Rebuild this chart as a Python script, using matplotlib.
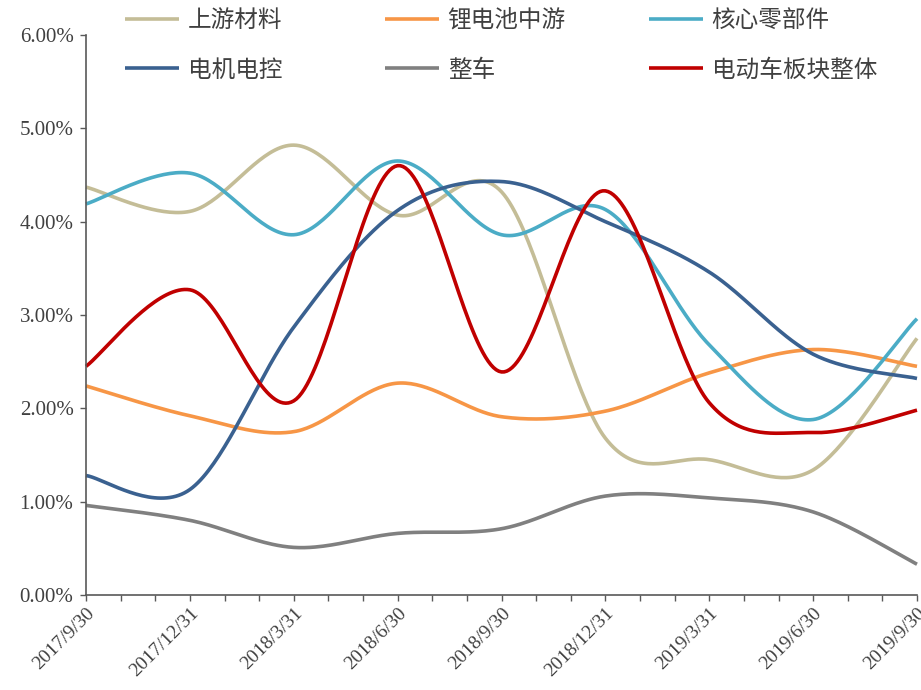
import numpy as np
import matplotlib
matplotlib.use("Agg")
import matplotlib.pyplot as plt
from matplotlib.ticker import MultipleLocator, FixedLocator, FuncFormatter

# 季度末日期标签（按月份数定位，每 3 个月一个数据点）
dates = ["2017/9/30", "2017/12/31", "2018/3/31", "2018/6/30", "2018/9/30",
         "2018/12/31", "2019/3/31", "2019/6/30", "2019/9/30"]
months = [0, 3, 6, 9, 12, 15, 18, 21, 24]

series_names = ["上游材料", "锂电池中游", "核心零部件", "电机电控", "整车", "电动车板块整体"]

upstream = [4.37, 4.11, 4.82, 4.07, 4.32, 1.68, 1.45, 1.34, 2.75]
battery_mid = [2.24, 1.92, 1.75, 2.27, 1.91, 1.97, 2.38, 2.63, 2.45]
core_parts = [4.19, 4.52, 3.86, 4.65, 3.86, 4.13, 2.68, 1.88, 2.96]
motor_ctrl = [1.28, 1.13, 2.87, 4.12, 4.43, 4.00, 3.46, 2.58, 2.32]
vehicle = [0.96, 0.80, 0.51, 0.66, 0.71, 1.06, 1.04, 0.89, 0.33]
ev_sector = [2.45, 3.27, 2.08, 4.60, 2.39, 4.33, 2.06, 1.74, 1.98]

colors = ["#C4BD97", "#F79646", "#4BACC6", "#3A6190", "#808080", "#C00000"]


def smooth(x, y, n=40):
    """Catmull-Rom 式贝塞尔平滑，曲线经过每个数据点"""
    x = np.asarray(x, float)
    y = np.asarray(y, float)
    pts = np.column_stack([x, y])
    out = []
    for i in range(len(pts) - 1):
        p0 = pts[i - 1] if i > 0 else pts[i]
        p1 = pts[i]
        p2 = pts[i + 1]
        p3 = pts[i + 2] if i + 2 < len(pts) else pts[i + 1]
        c1 = p1 + (p2 - p0) / 6.0
        c2 = p2 - (p3 - p1) / 6.0
        t = np.linspace(0, 1, n)[:, None]
        seg = ((1 - t) ** 3) * p1 + 3 * ((1 - t) ** 2) * t * c1 \
            + 3 * (1 - t) * t ** 2 * c2 + t ** 3 * p2
        out.append(seg if i == 0 else seg[1:])
    curve = np.vstack(out)
    return curve[:, 0], curve[:, 1]


fig = plt.figure(figsize=(9.21, 6.9), dpi=100)
ax = fig.add_axes([86 / 921, 1 - 595 / 690, (917 - 86) / 921, (595 - 35) / 690])

all_series = [upstream, battery_mid, core_parts, motor_ctrl, vehicle, ev_sector]
handles = []
for name, vals, c in zip(series_names, all_series, colors):
    sx, sy = smooth(months, vals)
    h, = ax.plot(sx, sy, color=c, lw=2.6, label=name, clip_on=False,
                 solid_capstyle="butt")
    handles.append(h)

ax.set_xlim(0, 24)
ax.set_ylim(0, 6)
ax.yaxis.set_major_locator(MultipleLocator(1))
ax.yaxis.set_major_formatter(FuncFormatter(lambda v, p: f"{v:.2f}%"))
ax.xaxis.set_major_locator(FixedLocator(months))
ax.xaxis.set_minor_locator(MultipleLocator(1))
ax.set_xticklabels(dates)

for s in ["top", "right"]:
    ax.spines[s].set_visible(False)
for s in ["left", "bottom"]:
    ax.spines[s].set_color("#595959")
    ax.spines[s].set_linewidth(1.2)

ax.tick_params(axis="both", which="both", direction="out", length=4,
               width=1.0, color="#595959")
ax.tick_params(axis="y", pad=5)
ax.tick_params(axis="x", pad=3)
for lbl in ax.get_yticklabels():
    lbl.set_fontfamily("Liberation Serif")
    lbl.set_fontsize(15)
    lbl.set_color("#404040")
for lbl in ax.get_xticklabels():
    lbl.set_fontfamily("Liberation Serif")
    lbl.set_fontsize(14)
    lbl.set_color("#404040")
    lbl.set_rotation(45)
    lbl.set_ha("right")
    lbl.set_va("top")
    lbl.set_rotation_mode("anchor")

# 图例分三列排布，每列两项
col_x = [125, 385, 649]
for k, x0 in enumerate(col_x):
    hs = [handles[k], handles[k + 3]]
    leg = fig.legend(hs, [h.get_label() for h in hs], loc="upper left",
                     bbox_to_anchor=(x0 / 921, 1 - 9 / 690), frameon=False,
                     borderpad=0, borderaxespad=0, handlelength=2.3,
                     handletextpad=0.35, labelspacing=1.13,
                     prop={"family": ["Noto Sans CJK SC", "DejaVu Sans"], "size": 17})
    for t in leg.get_texts():
        t.set_color("#404040")

fig.savefig("out.png", dpi=100)
